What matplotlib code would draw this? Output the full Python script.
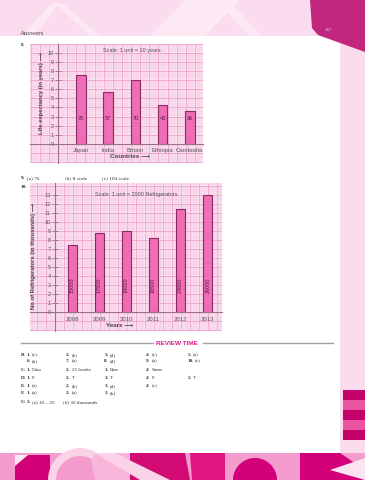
import numpy as np
import matplotlib.pyplot as plt
from matplotlib.patches import Polygon, Rectangle, Circle, Wedge

W, H = 365, 480

# ---- data ----
countries = ['Japan', 'India', 'Britain', 'Ethiopia', 'Cambodia']
life_years = [76, 57, 70, 43, 36]          # 1 unit = 10 years

years = ['2008', '2009', '2010', '2011', '2012', '2013']
fridges = [15000, 17500, 18000, 16500, 23000, 26000]   # 1 unit = 2000

answers = [
    ('B.', [('1.', '(c)'), ('2.', '(b)'), ('3.', '(d)'), ('4.', '(c)'), ('5.', '(a)')]),
    ('', [('6.', '(b)'), ('7.', '(a)'), ('8.', '(d)'), ('9.', '(a)'), ('10.', '(c)')]),
    ('C.', [('1.', 'Data'), ('2.', '25 books'), ('3.', 'Raw'), ('4.', 'Same')]),
    ('D.', [('1.', 'F'), ('2.', 'T'), ('3.', 'T'), ('4.', 'F'), ('5.', 'T')]),
    ('E.', [('1.', '(a)'), ('2.', '(b)'), ('3.', '(d)'), ('4.', '(c)')]),
    ('F.', [('1.', '(a)'), ('2.', '(a)'), ('3.', '(b)')]),
    ('G.', [('2.', '(a) 10 \u2013 20'), ('', '(b) 30 thousands')]),
]

PINK_BG = '#fbdcee'
MAGENTA = '#c2267f'
BAR = '#ee6db5'
BAR_EDGE = '#8c2a62'
AXIS = '#9c6f88'
SANS = ['Liberation Sans', 'DejaVu Sans']
SERIF = ['Liberation Serif', 'DejaVu Serif']


def px_rect(x0, y0, x1, y1):
    return [x0 / W, 1 - y1 / H, (x1 - x0) / W, (y1 - y0) / H]


fig = plt.figure(figsize=(W / 100, H / 100), dpi=100)
fig.patch.set_facecolor('white')

# ---- page decoration (pixel coordinates) ----
bg = fig.add_axes([0, 0, 1, 1])
bg.set_xlim(0, W)
bg.set_ylim(H, 0)
bg.axis('off')

bg.add_patch(Rectangle((0, 0), W, 36, color=PINK_BG, lw=0))
bg.add_patch(Rectangle((340, 0), 25, H, color=PINK_BG, lw=0))
for pts in [[(22, 36), (52, 3), (60, 3), (34, 36)],
            [(55, 3), (62, 3), (100, 36), (90, 36)],
            [(150, 36), (185, 0), (240, 0), (205, 36)],
            [(215, 0), (228, 0), (262, 36), (250, 36)]]:
    bg.add_patch(Polygon(pts, closed=True, color='#fde9f4', lw=0))
bg.add_patch(Polygon([(310, 0), (365, 0), (365, 52), (318, 35), (312, 28)],
                     closed=True, color=MAGENTA, lw=0))
bg.text(328, 30, '167', fontsize=3.6, color='#f7d7ea', family=SERIF,
        ha='center', va='center')
bg.text(20, 33.5, 'Answers', fontsize=5, color='#444', family=SERIF,
        ha='left', va='center')

# right stripes
stripe_cols = ['#c4006a', '#e9559f', '#c4006a', '#e9559f', '#c4006a']
for k, c in enumerate(stripe_cols):
    bg.add_patch(Rectangle((343, 390 + k * 10), 22, 10, color=c, lw=0))

# bottom band
bg.add_patch(Rectangle((0, 453), W, 27, color='#f49ccd', lw=0))
bottom_shapes = [
    ([(15, 480), (15, 455), (50, 455), (50, 480)], '#d4007a'),
    ([(15, 455), (28, 455), (15, 466)], '#fde9f4'),
    ([(90, 453), (130, 453), (130, 480), (95, 480)], '#f8b6da'),
    ([(130, 453), (185, 453), (190, 480), (130, 480)], '#d10a74'),
    ([(95, 453), (115, 453), (170, 480), (140, 480)], '#fbd3e8'),
    ([(190, 453), (225, 453), (225, 480), (192, 480)], '#e0157f'),
    ([(300, 453), (340, 453), (365, 470), (365, 480), (300, 480)], '#d4007a'),
    ([(330, 470), (365, 458), (365, 480)], '#fbe3f0'),
]
for pts, c in bottom_shapes:
    bg.add_patch(Polygon(pts, closed=True, color=c, lw=0))
bg.add_patch(Wedge((255, 480), 22, 180, 360, color='#d4007a', lw=0))
bg.add_patch(Wedge((80, 480), 32, 180, 300, width=8, color='#fbd3e8', lw=0))


def graph_paper(ax, x_axis, xu, ylo, yhi):
    # xu = data units in x for one y-unit of length
    ax.set_facecolor('#fdeaf5')
    x0, x1 = ax.get_xlim()
    ks = np.arange(np.floor((x0 - x_axis) / xu * 5), np.ceil((x1 - x_axis) / xu * 5) + 1)
    for k in ks:
        major = (k % 5 == 0)
        ax.axvline(x_axis + k * xu / 5, color='#ee9fcb' if major else '#f6c3df',
                   lw=0.6 if major else 0.35, zorder=0.5)
    for k in np.arange(np.floor(ylo * 5), np.ceil(yhi * 5) + 1):
        major = (k % 5 == 0)
        ax.axhline(k / 5, color='#ee9fcb' if major else '#f6c3df',
                   lw=0.6 if major else 0.35, zorder=0.5)


def style_axes(ax, x_axis, ymax, labels, pad):
    for s in ['top', 'right']:
        ax.spines[s].set_visible(False)
    ax.spines['left'].set_position(('data', x_axis))
    ax.spines['bottom'].set_position(('data', 0))
    for s in ['left', 'bottom']:
        ax.spines[s].set_color(AXIS)
        ax.spines[s].set_linewidth(0.8)
        ax.spines[s].set_zorder(4)
    ax.set_yticks(range(ymax + 1))
    ax.tick_params(axis='y', direction='inout', length=4, width=0.6, color=AXIS,
                   labelsize=4, labelcolor='#555', pad=1)
    ax.set_xticks(range(len(labels)))
    ax.set_xticklabels(labels)
    ax.tick_params(axis='x', length=0, labelsize=4.3, labelcolor='#555', pad=pad)
    for t in ax.get_xticklabels() + ax.get_yticklabels():
        t.set_family(SANS)


# ---- chart 8 ----
ax1 = fig.add_axes(px_rect(30, 44, 203, 163))
ax1.set_xlim(-1.875, 4.485)
ax1.set_ylim(-2.08, 10.95)
graph_paper(ax1, -0.846, 9.13 / 27.2, -2.08, 10.95)
h1 = [v / 10 for v in life_years]
ax1.bar(range(len(countries)), h1, width=0.35, color=BAR, edgecolor=BAR_EDGE,
        lw=0.8, zorder=3)
for i, v in enumerate(life_years):
    ax1.text(i, 2.75, str(v), fontsize=4, color='#5a1a45', family=SANS,
             ha='center', va='center', zorder=5)
style_axes(ax1, -0.846, 10, countries, 3.2)
ax1.text(1.875, 10.22, 'Scale: 1 unit = 10 years', fontsize=4, color='#555',
         family=SANS, ha='center', va='center')
ax1.text(1.8, -1.42, 'Countries \u27f6', fontsize=4.5, color='#444',
         family=SANS, weight='bold', ha='center', va='center')
ax1.text(-1.47, 5.59, 'Life expectancy (in years) \u27f6', fontsize=4.2,
         color='#444', family=SANS, weight='bold', rotation=90,
         ha='center', va='center')

# ---- chart 10 ----
ax2 = fig.add_axes(px_rect(30, 183.3, 222, 330.7))
ax2.set_xlim(-1.557, 5.528)
ax2.set_ylim(-2.04, 14.30)
graph_paper(ax2, -0.635, 9.02 / 27.1, -2.04, 14.30)
h2 = [v / 2000 for v in fridges]
ax2.bar(range(len(years)), h2, width=0.332, color=BAR, edgecolor=BAR_EDGE,
        lw=0.8, zorder=3)
for i, v in enumerate(fridges):
    ax2.text(i, 3.0, str(v), fontsize=4, color='#5a1a45', family=SANS,
             rotation=90, ha='center', va='center', zorder=5)
style_axes(ax2, -0.635, 13, years, 3.4)
ax2.text(2.35, 13.08, 'Scale: 1 unit = 2000 Refrigerators', fontsize=4,
         color='#555', family=SANS, ha='center', va='center')
ax2.text(1.76, -1.49, 'Years \u27f6', fontsize=4.5, color='#444',
         family=SANS, weight='bold', ha='center', va='center')
ax2.text(-1.41, 6.2, 'No of Refrigerators (in thousands) \u27f6', fontsize=4.2,
         color='#444', family=SANS, weight='bold', rotation=90,
         ha='center', va='center')

# ---- page text ----
TXT = '#333'
bg.text(21, 45, '8.', fontsize=3.8, weight='bold', family=SERIF, color=TXT, va='center')
bg.text(21, 178.3, '9.', fontsize=3.8, weight='bold', family=SERIF, color=TXT, va='center')
bg.text(27, 178.3, '(a) 76', fontsize=3.8, family=SERIF, color=TXT, va='center')
bg.text(65, 178.3, '(b) 8 scale', fontsize=3.8, family=SERIF, color=TXT, va='center')
bg.text(101.7, 178.3, '(c) 104 scale', fontsize=3.8, family=SERIF, color=TXT, va='center')
bg.text(21, 187, '10.', fontsize=3.8, weight='bold', family=SERIF, color=TXT, va='center')

# review time header
bg.plot([21, 153], [343.3, 343.3], color='#a0a0a0', lw=1.0)
bg.plot([203, 333], [343.3, 343.3], color='#a0a0a0', lw=1.0)
bg.text(177, 343.3, 'REVIEW TIME', fontsize=4.6, weight='bold', family=SANS,
        color='#e0168a', ha='center', va='center')

row_y = [355, 360.7, 370.3, 378, 385.7, 393.3, 401.7]
col_x = [26.7, 66, 104.3, 146, 187.7]
for (letter, items), y in zip(answers, row_y):
    if letter:
        bg.text(21, y, letter, fontsize=3.7, weight='bold', family=SERIF,
                color=TXT, va='center')
    for j, (num, ans) in enumerate(items):
        x = col_x[j]
        if letter == 'G.' and j == 1:
            x = 63
        if num:
            bg.text(x, y, num, fontsize=3.7, weight='bold', family=SERIF,
                    color=TXT, va='center')
            x += 7.5 if len(num) > 2 else 5.5
        bg.text(x, y, ans, fontsize=3.7, family=SERIF, color=TXT, va='center')

fig.savefig('out.png', dpi=100, facecolor='white')
